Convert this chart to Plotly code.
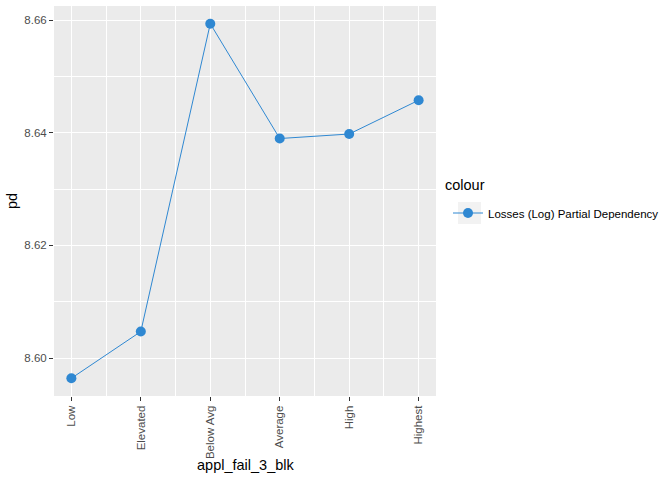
import plotly.graph_objects as go

categories = ["Low", "Elevated", "Below Avg", "Average", "High", "Highest"]
pd_values = [8.5964, 8.6047, 8.6594, 8.6390, 8.6398, 8.6458]
series_name = "Losses (Log) Partial Dependency"
y_ticks = [8.60, 8.62, 8.64, 8.66]

x_pos = list(range(1, len(categories) + 1))
color = "#2F88D2"

W, H = 672, 480
L, R, T, B = 54, 236, 6, 84
pw, ph = W - L - R, H - T - B


def px_x(px):
    return (px - L) / pw


def px_y(py):
    return (H - B - py) / ph


fig = go.Figure()
fig.add_trace(go.Scatter(
    x=x_pos, y=pd_values, mode="lines+markers", name=series_name,
    line=dict(color=color, width=1),
    marker=dict(color=color, size=10),
))

ymin, ymax = min(pd_values), max(pd_values)
pad = (ymax - ymin) * 0.05
xr = [0.75, len(categories) + 0.25]
yr = [ymin - pad, ymax + pad]

font = "Liberation Sans, Arial, sans-serif"
fig.update_layout(
    width=W, height=H,
    margin=dict(l=L, r=R, t=T, b=B, autoexpand=False),
    paper_bgcolor="white", plot_bgcolor="#EBEBEB",
    font=dict(family=font, color="#000000"),
    showlegend=True,
    legend=dict(
        x=px_x(448), y=px_y(213), xanchor="left", yanchor="middle",
        font=dict(size=11.5, color="#000000"),
        bgcolor="rgba(0,0,0,0)",
    ),
    shapes=[dict(type="rect", xref="paper", yref="paper",
                 x0=px_x(458), x1=px_x(481), y0=px_y(224), y1=px_y(202),
                 fillcolor="#F2F2F2", line=dict(width=0), layer="below")],
    annotations=[
        dict(text="colour", xref="paper", yref="paper", x=px_x(443), y=px_y(185),
             xanchor="left", yanchor="middle", showarrow=False,
             font=dict(size=14.5, color="#000000")),
        dict(text="appl_fail_3_blk", xref="paper", yref="paper", x=0.5, y=px_y(465),
             xanchor="center", yanchor="middle", showarrow=False,
             font=dict(size=14.5, color="#000000")),
        dict(text="pd", xref="paper", yref="paper", x=px_x(12), y=0.5,
             xanchor="center", yanchor="middle", showarrow=False, textangle=-90,
             font=dict(size=14.5, color="#000000")),
    ],
    xaxis=dict(
        range=xr, tickmode="array", tickvals=x_pos, ticktext=categories,
        tickangle=-90, tickfont=dict(size=11.5, color="#4D4D4D"),
        showgrid=True, gridcolor="white", gridwidth=1.1,
        minor=dict(tickmode="array", tickvals=[p + 0.5 for p in x_pos[:-1]],
                   showgrid=True, gridcolor="white", gridwidth=0.5),
        ticks="outside", ticklen=4, tickcolor="#333333", tickwidth=1,
        zeroline=False, showline=False, automargin=False,
    ),
    yaxis=dict(
        range=yr, tickmode="array", tickvals=y_ticks,
        ticktext=[f"{v:.2f}" for v in y_ticks],
        tickfont=dict(size=11.5, color="#4D4D4D"),
        showgrid=True, gridcolor="white", gridwidth=1.1,
        minor=dict(tickmode="array", tickvals=[8.61, 8.63, 8.65],
                   showgrid=True, gridcolor="white", gridwidth=0.5),
        ticks="outside", ticklen=4, tickcolor="#333333", tickwidth=1,
        zeroline=False, showline=False, automargin=False,
    ),
)

fig.write_html("out.html", config={"displayModeBar": False},
               post_script="document.body.style.margin='0';document.body.style.padding='0';")
